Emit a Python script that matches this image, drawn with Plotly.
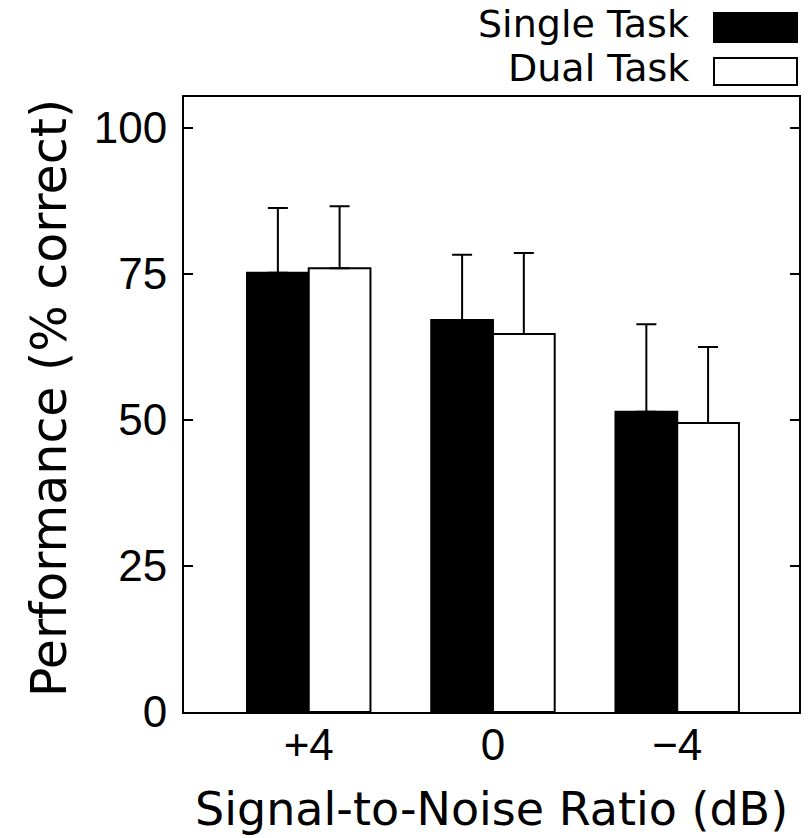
import plotly.graph_objects as go

# ---- data ----
categories = ["+4", "0", "\u22124"]
series_names = ["Single Task", "Dual Task"]
single_mean = [75.2, 67.1, 51.4]
single_err = [11.1, 11.2, 15.0]
dual_mean = [76.0, 64.7, 49.5]
dual_err = [10.6, 13.9, 13.0]
y_ticks = [0, 25, 50, 75, 100]

# ---- layout geometry (pixels) ----
W, H = 812, 838
L, R, T, B = 184, 13, 97, 126
PW, PH = W - L - R, H - T - B

def px_x(x):
    return (x - L) / PW

def px_y(y):
    return (H - B - y) / PH

TITLE_FONT = "DejaVu Sans"
TICK_FONT = "Liberation Sans"

fig = go.Figure()
fig.add_trace(go.Bar(
    x=categories, y=single_mean, name=series_names[0],
    marker=dict(color="black", line=dict(color="black", width=2)),
    error_y=dict(type="data", symmetric=False, array=single_err,
                 arrayminus=[0] * len(single_err), color="black",
                 thickness=2, width=10),
    showlegend=False,
))
fig.add_trace(go.Bar(
    x=categories, y=dual_mean, name=series_names[1],
    marker=dict(color="white", line=dict(color="black", width=2)),
    error_y=dict(type="data", symmetric=False, array=dual_err,
                 arrayminus=[0] * len(dual_err), color="black",
                 thickness=2, width=10),
    showlegend=False,
))

fig.update_layout(
    width=W, height=H,
    margin=dict(l=L, r=R, t=T, b=B, pad=0),
    paper_bgcolor="white", plot_bgcolor="white",
    barmode="group", bargap=0.33, bargroupgap=0,
    xaxis=dict(
        type="category", range=[-0.677, 2.661],
        showline=True, linecolor="black", linewidth=2, mirror=True,
        ticks="", showgrid=False, zeroline=False,
        tickfont=dict(family=TICK_FONT, size=44, color="black"),
        ticklabelstandoff=-7,
    ),
    yaxis=dict(
        range=[0, 105.3], tickvals=y_ticks, ticktext=[str(v) for v in y_ticks],
        showline=True, linecolor="black", linewidth=2, mirror="ticks",
        ticks="inside", ticklen=9, tickwidth=2, tickcolor="black",
        showgrid=False, zeroline=False,
        tickfont=dict(family=TICK_FONT, size=44, color="black"),
        ticklabelstandoff=6,
    ),
)

# axis titles
fig.add_annotation(
    text="Signal-to-Noise Ratio (dB)", xref="paper", yref="paper",
    x=px_x(491), y=px_y(838), xanchor="center", yanchor="bottom",
    showarrow=False, font=dict(family=TITLE_FONT, size=46, color="black"),
)
fig.add_annotation(
    text="Performance (% correct)", xref="paper", yref="paper",
    x=px_x(50), y=px_y(398), xanchor="center", yanchor="middle",
    textangle=-90, showarrow=False,
    font=dict(family=TITLE_FONT, size=49, color="black"),
)

# legend (manual key, as in the original)
key_boxes = [(13, 42, "black"), (58, 85, "white")]
key_text_y = [24, 68]
for name, (y0, y1, fill), ty in zip(series_names, key_boxes, key_text_y):
    fig.add_shape(type="rect", xref="paper", yref="paper",
                  x0=px_x(714), x1=px_x(797), y0=px_y(y1), y1=px_y(y0),
                  fillcolor=fill, line=dict(color="black", width=2))
    fig.add_annotation(text=name, xref="paper", yref="paper",
                       x=px_x(691), y=px_y(ty), xanchor="right", yanchor="middle",
                       showarrow=False,
                       font=dict(family=TITLE_FONT, size=38, color="black"))

fig.write_html("out.html")
